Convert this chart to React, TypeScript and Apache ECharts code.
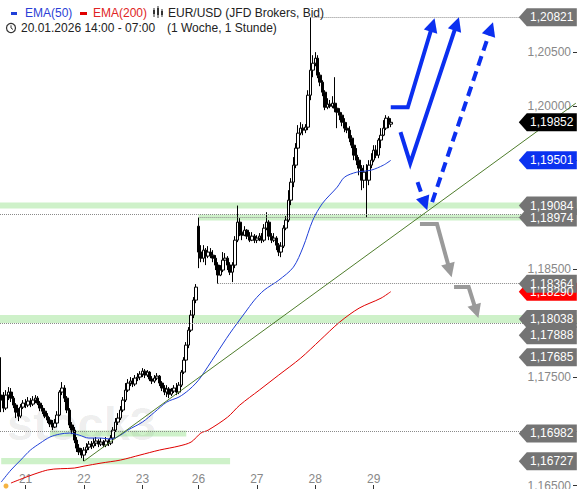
import React, { useEffect, useRef } from 'react';
import * as echarts from 'echarts';

// ---------- data ----------
const dayLabels = ['21', '22', '23', '26', '27', '28', '29'];
const dayStartIndex = [10, 34, 58, 81, 105, 129, 153];
const dayHours: [number, number, number][] = [
  [20, 14, 23], [21, 0, 23], [22, 0, 23], [23, 0, 22], [26, 0, 23], [27, 0, 23], [28, 0, 23], [29, 0, 7],
];
const totalSlots = 237;

// [open, close, low, high]
const candles: number[][] = [
  [1.17336, 1.1729, 1.17179, 1.17685], [1.1729, 1.17216, 1.17179, 1.17364], [1.17216, 1.17336, 1.17198, 1.17382],
  [1.17336, 1.17364, 1.1729, 1.1741], [1.17364, 1.17308, 1.17272, 1.17401], [1.17308, 1.17244, 1.17216, 1.17327],
  [1.17244, 1.17179, 1.17124, 1.17262], [1.17179, 1.17142, 1.17096, 1.17216], [1.17142, 1.17225, 1.17124, 1.17253],
  [1.17225, 1.17262, 1.17207, 1.1729], [1.17262, 1.17244, 1.17216, 1.17299], [1.17244, 1.17281, 1.17225, 1.17318],
  [1.17281, 1.17253, 1.17225, 1.17308], [1.17253, 1.1729, 1.17235, 1.17327], [1.1729, 1.17308, 1.17262, 1.17336],
  [1.17308, 1.17262, 1.17244, 1.17327], [1.17262, 1.17216, 1.17188, 1.17281], [1.17216, 1.17188, 1.17161, 1.17244],
  [1.17188, 1.17142, 1.17124, 1.17216], [1.17142, 1.17106, 1.17078, 1.1717], [1.17106, 1.17069, 1.17041, 1.17133],
  [1.17069, 1.17041, 1.17013, 1.17106], [1.17041, 1.17078, 1.17032, 1.17115], [1.17078, 1.17152, 1.1706, 1.17188],
  [1.17152, 1.17364, 1.17142, 1.17382], [1.17364, 1.17401, 1.17336, 1.17456], [1.17401, 1.17308, 1.17272, 1.17428],
  [1.17308, 1.17198, 1.1717, 1.17327], [1.17198, 1.1706, 1.17032, 1.17216], [1.1706, 1.17013, 1.16976, 1.17087],
  [1.17013, 1.16921, 1.16893, 1.17041], [1.16921, 1.16847, 1.16811, 1.16949], [1.16847, 1.16811, 1.16783, 1.16884],
  [1.16811, 1.16783, 1.16755, 1.16847], [1.16783, 1.16829, 1.16727, 1.16856], [1.16829, 1.16856, 1.16801, 1.16893],
  [1.16856, 1.16884, 1.16829, 1.16912], [1.16884, 1.16866, 1.16838, 1.16912], [1.16866, 1.16893, 1.16847, 1.1694],
  [1.16893, 1.16912, 1.16866, 1.16949], [1.16912, 1.16884, 1.16856, 1.1693], [1.16884, 1.16903, 1.16866, 1.1694],
  [1.16903, 1.16875, 1.16856, 1.16921], [1.16875, 1.16912, 1.16856, 1.16949], [1.16912, 1.16893, 1.16866, 1.1693],
  [1.16893, 1.1694, 1.16875, 1.16967], [1.1694, 1.17013, 1.16921, 1.17041], [1.17013, 1.17087, 1.16995, 1.17124],
  [1.17087, 1.17124, 1.1706, 1.1717], [1.17124, 1.17198, 1.17106, 1.17235], [1.17198, 1.1729, 1.17179, 1.17318],
  [1.1729, 1.17382, 1.17272, 1.17447], [1.17382, 1.17447, 1.17364, 1.17484], [1.17447, 1.17465, 1.17419, 1.17502],
  [1.17465, 1.17438, 1.1741, 1.17493], [1.17438, 1.17493, 1.17419, 1.17521], [1.17493, 1.17502, 1.17465, 1.17539],
  [1.17502, 1.1753, 1.17474, 1.17557], [1.1753, 1.17557, 1.17502, 1.17585], [1.17557, 1.17521, 1.17493, 1.17576],
  [1.17521, 1.17548, 1.17502, 1.17567], [1.17548, 1.17484, 1.17465, 1.17557], [1.17484, 1.17465, 1.17438, 1.17511],
  [1.17465, 1.17493, 1.17447, 1.17521], [1.17493, 1.17511, 1.17474, 1.17539], [1.17511, 1.17447, 1.17419, 1.17521],
  [1.17447, 1.17401, 1.17373, 1.17465], [1.17401, 1.17364, 1.17336, 1.17428], [1.17364, 1.17392, 1.17318, 1.17428],
  [1.17392, 1.17345, 1.17308, 1.1741], [1.17345, 1.17373, 1.17327, 1.17401], [1.17373, 1.17401, 1.17355, 1.17428],
  [1.17401, 1.17364, 1.17336, 1.17447], [1.17364, 1.17428, 1.17345, 1.17456], [1.17428, 1.17548, 1.1741, 1.17567],
  [1.17548, 1.17659, 1.1753, 1.17686], [1.17659, 1.17797, 1.1764, 1.17825], [1.17797, 1.17935, 1.17769, 1.17963],
  [1.17935, 1.18074, 1.17917, 1.1812], [1.18074, 1.18212, 1.18046, 1.1824], [1.18212, 1.18332, 1.18184, 1.1836],
  [1.18894, 1.18655, 1.18507, 1.18974], [1.18655, 1.18599, 1.18562, 1.18719], [1.18599, 1.18673, 1.18562, 1.18719],
  [1.18673, 1.18618, 1.18535, 1.18692], [1.18618, 1.18655, 1.18599, 1.1871], [1.18655, 1.18627, 1.18599, 1.18692],
  [1.18627, 1.18599, 1.18562, 1.18673], [1.18599, 1.18535, 1.18489, 1.18627], [1.18535, 1.18443, 1.18364, 1.18562],
  [1.18443, 1.18489, 1.18433, 1.18535], [1.18489, 1.18581, 1.1847, 1.18655], [1.18581, 1.18599, 1.18544, 1.18646],
  [1.18599, 1.18535, 1.18489, 1.18618], [1.18535, 1.1847, 1.18443, 1.18562], [1.1847, 1.18535, 1.18378, 1.18562],
  [1.18535, 1.18765, 1.18507, 1.18802], [1.18765, 1.18931, 1.18747, 1.19084], [1.18931, 1.18839, 1.18802, 1.18968],
  [1.18839, 1.18811, 1.18765, 1.18876], [1.18811, 1.18857, 1.18802, 1.18894], [1.18857, 1.18802, 1.18775, 1.18867],
  [1.18802, 1.18765, 1.18747, 1.18839], [1.18765, 1.18802, 1.18756, 1.18839], [1.18802, 1.18765, 1.18738, 1.18821],
  [1.18765, 1.18784, 1.18738, 1.18811], [1.18784, 1.18802, 1.18756, 1.1883], [1.18802, 1.18765, 1.18738, 1.1883],
  [1.18765, 1.18876, 1.18747, 1.18913], [1.18876, 1.18931, 1.18857, 1.19023], [1.18931, 1.18802, 1.18765, 1.1895],
  [1.18802, 1.18765, 1.18738, 1.1883], [1.18765, 1.18784, 1.18747, 1.1883], [1.18784, 1.18719, 1.18673, 1.18802],
  [1.18719, 1.18655, 1.18618, 1.18738], [1.18655, 1.1871, 1.18608, 1.18747], [1.1871, 1.18876, 1.18692, 1.18903],
  [1.18876, 1.1895, 1.18857, 1.18987], [1.1895, 1.19134, 1.18931, 1.19226], [1.19134, 1.193, 1.19088, 1.19337],
  [1.193, 1.19457, 1.19254, 1.19531], [1.19457, 1.19614, 1.19429, 1.1966], [1.19614, 1.19752, 1.19549, 1.19826],
  [1.19752, 1.19798, 1.19733, 1.19853], [1.19798, 1.1978, 1.19733, 1.19835], [1.1978, 1.19807, 1.19752, 1.19835],
  [1.19807, 1.20102, 1.1978, 1.20148], [1.20102, 1.20333, 1.20056, 1.20821], [1.20333, 1.20397, 1.20268, 1.20471],
  [1.20397, 1.20443, 1.20369, 1.20499], [1.20443, 1.20287, 1.20259, 1.20471], [1.20287, 1.20222, 1.20185, 1.20314],
  [1.20222, 1.2013, 1.20093, 1.2024], [1.2013, 1.19991, 1.19964, 1.20148], [1.19991, 1.20019, 1.19973, 1.20074],
  [1.20019, 1.20001, 1.19982, 1.20058], [1.20001, 1.20028, 1.19982, 1.20093], [1.20028, 1.19982, 1.19945, 1.20268],
  [1.19982, 1.19945, 1.19798, 1.2001], [1.19945, 1.19918, 1.19872, 1.19982], [1.19918, 1.19853, 1.19816, 1.19945],
  [1.19853, 1.19798, 1.19761, 1.1989], [1.19798, 1.1978, 1.19752, 1.19853], [1.1978, 1.19706, 1.19669, 1.19816],
  [1.19706, 1.19641, 1.19614, 1.19733], [1.19641, 1.19549, 1.19503, 1.19669], [1.19549, 1.19503, 1.19457, 1.19614],
  [1.19503, 1.19429, 1.19363, 1.19531], [1.19429, 1.19318, 1.19226, 1.19457], [1.19318, 1.19392, 1.19245, 1.19457],
  [1.19392, 1.19318, 1.18977, 1.19466], [1.19318, 1.19457, 1.19272, 1.19503], [1.19457, 1.19503, 1.19429, 1.19567],
  [1.19503, 1.19595, 1.19484, 1.19641], [1.19595, 1.19549, 1.19521, 1.19641], [1.19549, 1.19688, 1.19521, 1.19706],
  [1.19688, 1.19733, 1.19614, 1.19798], [1.19733, 1.19798, 1.19724, 1.19872], [1.19798, 1.1989, 1.1978, 1.19918],
  [1.1989, 1.19835, 1.19798, 1.19908], [1.19835, 1.19852, 1.19807, 1.1989],
];

// [candle index, value]
const ema50: [number, number][] = [
  [0, 1.16534], [4, 1.16645], [8, 1.16737], [12, 1.16829], [16, 1.16893], [20, 1.16949], [24, 1.16976],
  [28, 1.16986], [32, 1.16967], [36, 1.1694], [41, 1.1694], [45, 1.1693], [49, 1.16967], [52, 1.17013],
  [58, 1.17087], [63, 1.17179], [68, 1.17272], [73, 1.17318], [77, 1.17382], [80, 1.17447], [82, 1.17502],
  [88, 1.17705], [94, 1.17908], [100, 1.18092], [104, 1.18212], [108, 1.18304], [114, 1.18396], [120, 1.18516],
  [124, 1.18701], [128, 1.1895], [132, 1.19106], [138, 1.19254], [141, 1.19346], [146, 1.19392], [152, 1.19411],
  [157, 1.19457], [160, 1.19501],
];
const ema200: [number, number][] = [
  [4, 1.16525], [19, 1.16645], [30, 1.16663], [34, 1.16681], [41, 1.16709], [49, 1.16737], [57, 1.16783],
  [65, 1.16829], [73, 1.16866], [78, 1.16903], [82, 1.16986], [85, 1.17013], [93, 1.17133], [98, 1.17244],
  [106, 1.17382], [114, 1.17521], [123, 1.17677], [131, 1.17843], [139, 1.18009], [147, 1.18138], [156, 1.1823],
  [160, 1.1829],
];

const yTickValues = [1.165, 1.17, 1.175, 1.18, 1.185, 1.19, 1.195, 1.2, 1.205];
const levelValues = [1.20821, 1.19084, 1.18974, 1.18364, 1.18038, 1.17888, 1.17685, 1.16982, 1.16727];
const levelStartIndex = [127, 0, 81, 89, 0, 0, 0, 0, 0];
const zoneLevels = [1.19084, 1.18974, 1.18038, 1.16982, 1.16727];
const zoneStart: (number | null)[] = [null, 81, null, 20, 0];
const zoneEnd: (number | null)[] = [null, 236, null, 76, 94];
const trendFrom: [number, number] = [34, 1.16727];
const trendTo: [number, number] = [236, 1.20028];

// annotation arrows in [index, price]
const arrowsDef = [
  { pts: [[159.7, 1.19991], [166.7, 1.19991], [178.2, 1.20812]], color: '#0b2ff0', dash: false },
  { pts: [[163.8, 1.19761], [167.9, 1.19475], [187.6, 1.20821]], color: '#0b2ff0', dash: false },
  { pts: [[170.8, 1.193], [174.9, 1.19042]], color: '#0b2ff0', dash: true },
  { pts: [[176.5, 1.19116], [202, 1.20775]], color: '#0b2ff0', dash: true },
  { pts: [[172, 1.18913], [179, 1.18913], [185.2, 1.18424]], color: '#9a9a9a', dash: false },
  { pts: [[186, 1.18332], [191.8, 1.18332], [195.8, 1.18046]], color: '#9a9a9a', dash: false },
];

const fmt = (v: number) => v.toFixed(5).replace('.', ',');
const FONT = '"Liberation Sans", Arial, sans-serif';

export default function App() {
  const ref = useRef<HTMLDivElement>(null);
  useEffect(() => {
    if (!ref.current) return;
    const chart = echarts.init(ref.current, undefined, { renderer: 'svg' });

    const categories: string[] = [];
    dayHours.forEach(([d, h0, h1]) => {
      for (let h = h0; h <= h1; h++) categories.push(`${d}.01. ${String(h).padStart(2, '0')}:00`);
    });
    while (categories.length < totalSlots) categories.push('slot' + categories.length);

    const lastIdx = totalSlots - 1;
    const GRAY = '#747474';
    const tags = [
      { v: ema200[ema200.length - 1][1], color: '#ff0000' },
      ...levelValues.map((v) => ({ v, color: GRAY })),
      { v: candles[candles.length - 1][1], color: '#000000' },
      { v: ema50[ema50.length - 1][1], color: '#0b32f0' },
    ];

    const markLines: any[] = levelValues.map((v, k) =>
      levelStartIndex[k] === 0
        ? { yAxis: v }
        : [{ coord: [levelStartIndex[k], v] }, { coord: [lastIdx, v] }]
    );
    markLines.push([
      { coord: trendFrom, lineStyle: { type: 'solid', color: '#4f7d2c', width: 1 } },
      { coord: trendTo },
    ]);

    const markAreas = zoneLevels.map((v, k) => {
      const hw = k === 2 ? 0.00036 : 0.00028;
      const a: any = { yAxis: v + hw };
      const b: any = { yAxis: v - hw };
      if (zoneStart[k] !== null) {
        a.xAxis = zoneStart[k];
        b.xAxis = zoneEnd[k];
      }
      return [a, b];
    });

    const option: any = {
      animation: false,
      textStyle: { fontFamily: FONT },
      grid: { left: 0, right: 0, top: 0, bottom: 0, containLabel: false, outerBoundsMode: 'none' },
      xAxis: {
        type: 'category',
        data: categories,
        boundaryGap: true,
        axisLine: { show: false },
        splitLine: { show: false },
        axisTick: {
          show: true,
          inside: true,
          length: 4,
          alignWithLabel: true,
          interval: (i: number) => dayStartIndex.includes(i),
          lineStyle: { color: '#333' },
        },
        axisLabel: {
          inside: true,
          margin: 4,
          color: '#888',
          fontSize: 12,
          fontFamily: FONT,
          interval: (i: number) => dayStartIndex.includes(i),
          formatter: (_v: string, i: number) => {
            const k = dayStartIndex.indexOf(i);
            return k >= 0 ? dayLabels[k] : '';
          },
        },
      },
      yAxis: {
        type: 'value',
        position: 'right',
        min: 1.1647,
        max: 1.2098,
        scale: true,
        axisLine: { show: false },
        splitLine: { show: false },
        axisTick: { show: true, inside: true, length: 4, customValues: yTickValues, lineStyle: { color: '#333' } },
        axisLabel: {
          inside: true,
          margin: 6,
          color: '#888',
          fontSize: 12,
          fontFamily: FONT,
          customValues: yTickValues,
          formatter: (v: number) => fmt(v),
        },
      },
      series: [
        {
          type: 'candlestick',
          data: candles,
          barWidth: 3,
          z: 3,
          itemStyle: { color: '#ffffff', color0: '#000000', borderColor: '#000000', borderColor0: '#000000', borderWidth: 1 },
          markArea: {
            silent: true,
            itemStyle: { color: 'rgba(120, 215, 105, 0.36)' },
            data: markAreas,
          },
          markLine: {
            silent: true,
            symbol: ['none', 'none'],
            label: { show: false },
            lineStyle: { type: 'dotted', color: '#8a8a8a', width: 1 },
            data: markLines,
          },
          markPoint: {
            silent: true,
            symbol: 'path://M0,9L8,0L58,0L58,18L8,18Z',
            symbolSize: [58, 18],
            symbolKeepAspect: false,
            symbolOffset: [-28, 0],
            label: {
              show: true,
              position: 'inside',
              offset: [4, 0],
              color: '#ffffff',
              fontSize: 12,
              fontFamily: FONT,
              formatter: '{b}',
            },
            data: tags.map((t) => ({ name: fmt(t.v), coord: [lastIdx, t.v], itemStyle: { color: t.color } })),
          },
        },
        {
          type: 'line',
          name: 'EMA(200)',
          data: ema200,
          showSymbol: false,
          symbol: 'none',
          smooth: 0.3,
          z: 4,
          lineStyle: { color: '#e00000', width: 1 },
        },
        {
          type: 'line',
          name: 'EMA(50)',
          data: ema50,
          showSymbol: false,
          symbol: 'none',
          smooth: 0.3,
          z: 4,
          lineStyle: { color: '#1f3fd8', width: 1 },
        },
      ],
    };
    chart.setOption(option);

    // annotations & legend
    const g: any[] = [];
    g.push({
      type: 'text', x: 7, y: 447, z: 0,
      style: { text: 'stock3', fontSize: 47, fontWeight: 'bold', fontFamily: FONT, fill: 'rgba(0,0,0,0.08)', verticalAlign: 'bottom' },
    });
    arrowsDef.forEach((a) => {
      const px = a.pts.map((p) => chart.convertToPixel({ gridIndex: 0 }, p) as number[]);
      const tip = px[px.length - 1];
      const prev = px[px.length - 2];
      const dx = tip[0] - prev[0];
      const dy = tip[1] - prev[1];
      const len = Math.hypot(dx, dy);
      const ux = dx / len, uy = dy / len;
      const headLen = 14, hw = 7;
      const bx = tip[0] - ux * headLen, by = tip[1] - uy * headLen;
      const linePts = px.slice(0, -1).concat([[bx + ux * 2, by + uy * 2]]);
      g.push({
        type: 'polyline', z: 100,
        shape: { points: linePts },
        style: { stroke: a.color, lineWidth: 4, fill: null, lineDash: a.dash ? [10, 6] : null, lineJoin: 'miter' },
      });
      g.push({
        type: 'polygon', z: 100,
        shape: { points: [tip, [bx - uy * hw, by + ux * hw], [bx + uy * hw, by - ux * hw]] },
        style: { fill: a.color },
      });
    });
    // legend line 1
    g.push({ type: 'rect', z: 100, shape: { x: 11, y: 12, width: 6, height: 3 }, style: { fill: '#1f3fd8' } });
    g.push({ type: 'text', z: 100, x: 25, y: 13, style: { text: 'EMA(50)', fontSize: 12, fontFamily: FONT, fill: '#2b3fd6', verticalAlign: 'middle' } });
    g.push({ type: 'rect', z: 100, shape: { x: 80, y: 12, width: 7, height: 3 }, style: { fill: '#e00000' } });
    g.push({ type: 'text', z: 100, x: 93, y: 13, style: { text: 'EMA(200)', fontSize: 12, fontFamily: FONT, fill: '#e02424', verticalAlign: 'middle' } });
    // tiny candle glyph
    [[153, 8, 17, 10, 14], [157, 6, 18, 8, 15], [161, 9, 17, 11, 15]].forEach(([x, t, b, bt, bb]) => {
      g.push({ type: 'line', z: 100, shape: { x1: x + 1, y1: t, x2: x + 1, y2: b }, style: { stroke: '#333', lineWidth: 1 } });
      g.push({ type: 'rect', z: 100, shape: { x: x, y: bt, width: 2, height: bb - bt }, style: { fill: '#333' } });
    });
    g.push({ type: 'text', z: 100, x: 168, y: 13, style: { text: 'EUR/USD (JFD Brokers, Bid)', fontSize: 12, fontFamily: FONT, fill: '#222', verticalAlign: 'middle' } });
    // legend line 2
    g.push({ type: 'circle', z: 100, shape: { cx: 11, cy: 28, r: 4.5 }, style: { stroke: '#333', lineWidth: 1.2, fill: null } });
    g.push({ type: 'polyline', z: 100, shape: { points: [[11, 25.3], [11, 28], [13, 29.5]] }, style: { stroke: '#333', lineWidth: 1, fill: null } });
    g.push({ type: 'text', z: 100, x: 21, y: 28, style: { text: '20.01.2026 14:00 - 07:00', fontSize: 12, fontFamily: FONT, fill: '#222', verticalAlign: 'middle' } });
    g.push({ type: 'text', z: 100, x: 167, y: 28, style: { text: '(1 Woche, 1 Stunde)', fontSize: 12, fontFamily: FONT, fill: '#222', verticalAlign: 'middle' } });
    g.push({ type: 'circle', z: 100, shape: { cx: 6, cy: 486, r: 2.5 }, style: { fill: '#f5b342' } });

    chart.setOption({ graphic: g });

    return () => chart.dispose();
  }, []);

  return (
    <div
      ref={ref}
      style={{ position: 'fixed', left: 0, top: 0, width: 577, height: 489, background: '#fff' }}
    />
  );
}
